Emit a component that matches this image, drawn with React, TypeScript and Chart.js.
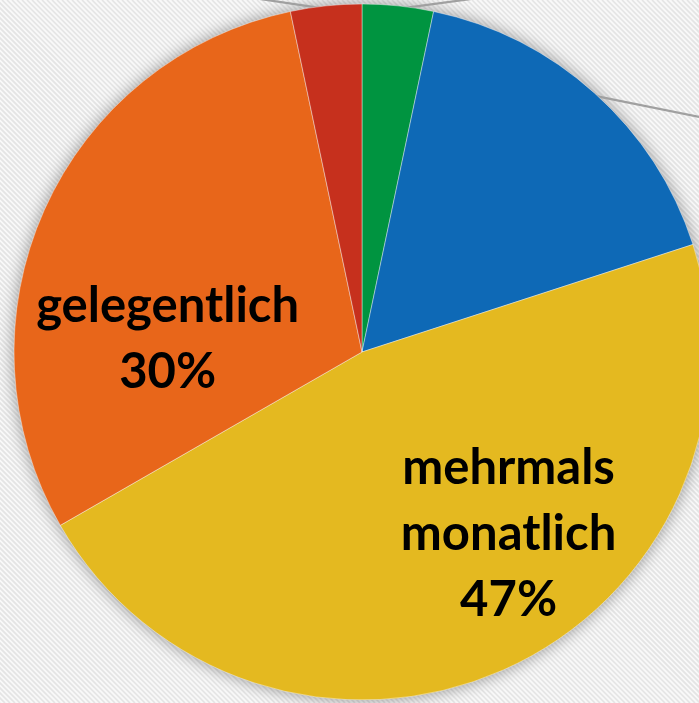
import React, { useEffect, useRef } from "react";
import { Chart, registerables } from "chart.js";

Chart.register(...registerables);

// ---- data ----
const categories = ["fast täglich", "mehrmals wöchentlich", "mehrmals monatlich", "gelegentlich", "nie"];
const values = [3.3, 16.7, 46.7, 30.0, 3.3];
const colors = ["#009440", "#0E69B6", "#E4B920", "#E8661A", "#C6301D"];
// which slices carry an inside label (others have leader lines to labels outside the crop)
const insideLabels = [false, false, true, true, false];

// ---- style ----
const W = 699;
const H = 703;
const RADIUS = 348;
const FONT = "bold 49px Lato, 'Noto Sans', sans-serif";
const LINE_H = 66;
// label anchor: angle offset (deg) from slice middle, radius fraction
const labelPlacement: Record<number, { dAng: number; r: number }> = {
  2: { dAng: -15, r: 0.67 },
  3: { dAng: -20, r: 0.56 },
};
// leader line direction for outside-labelled slices (dx, dy per unit)
const leaderDir: Record<number, [number, number]> = {
  0: [52, -7],
  1: [104, 21],
  4: [-47, -7],
};

const bgPlugin = {
  id: "bgPattern",
  beforeDraw(chart: any) {
    const ctx = chart.ctx as CanvasRenderingContext2D;
    ctx.save();
    ctx.fillStyle = "#f8f8f8";
    ctx.fillRect(0, 0, chart.width, chart.height);
    ctx.strokeStyle = "#e4e4e4";
    ctx.lineWidth = 1.6;
    for (let k = -chart.height; k < chart.width + chart.height; k += 5) {
      ctx.beginPath();
      ctx.moveTo(k, 0);
      ctx.lineTo(k + chart.height, chart.height);
      ctx.stroke();
    }
    ctx.restore();
  },
  beforeDatasetsDraw(chart: any) {
    const ctx = chart.ctx as CanvasRenderingContext2D;
    const arc = chart.getDatasetMeta(0).data[0];
    if (!arc) return;
    ctx.save();
    ctx.shadowColor = "rgba(0,0,0,0.4)";
    ctx.shadowBlur = 16;
    ctx.fillStyle = "#bbbbbb";
    ctx.beginPath();
    ctx.arc(arc.x, arc.y, arc.outerRadius, 0, Math.PI * 2);
    ctx.fill();
    ctx.restore();
    // leader lines
    ctx.save();
    ctx.strokeStyle = "#a0a0a0";
    ctx.lineWidth = 2.2;
    chart.getDatasetMeta(0).data.forEach((a: any, i: number) => {
      const d = leaderDir[i];
      if (!d) return;
      const mid = (a.startAngle + a.endAngle) / 2;
      const sx = a.x + Math.cos(mid) * (a.outerRadius - 3);
      const sy = a.y + Math.sin(mid) * (a.outerRadius - 3);
      ctx.beginPath();
      ctx.moveTo(sx, sy);
      ctx.lineTo(sx + d[0] * 3, sy + d[1] * 3);
      ctx.stroke();
    });
    ctx.restore();
  },
  afterDatasetsDraw(chart: any) {
    const ctx = chart.ctx as CanvasRenderingContext2D;
    ctx.save();
    ctx.font = FONT;
    ctx.fillStyle = "#000";
    ctx.textAlign = "center";
    ctx.textBaseline = "alphabetic";
    chart.getDatasetMeta(0).data.forEach((a: any, i: number) => {
      if (!insideLabels[i]) return;
      const p = labelPlacement[i];
      const mid = (a.startAngle + a.endAngle) / 2 + (p.dAng * Math.PI) / 180;
      const cx = a.x + Math.cos(mid) * a.outerRadius * p.r;
      const cy = a.y + Math.sin(mid) * a.outerRadius * p.r;
      const lines = [...categories[i].split(" "), `${Math.round(values[i])}%`];
      const top = cy - ((lines.length - 1) * LINE_H) / 2;
      lines.forEach((t, j) => {
        ctx.fillText(t, cx, top + j * LINE_H + 17);
      });
    });
    ctx.restore();
  },
};

export default function App() {
  const ref = useRef<HTMLCanvasElement | null>(null);
  useEffect(() => {
    if (!ref.current) return;
    const chart = new Chart(ref.current, {
      type: "pie",
      data: {
        labels: categories,
        datasets: [
          {
            data: values,
            backgroundColor: colors,
            borderColor: "rgba(255,255,255,0.4)",
            borderWidth: 1,
            radius: RADIUS,
          } as any,
        ],
      },
      options: {
        responsive: false,
        animation: false,
        layout: { padding: { left: 25, right: 0, top: 1, bottom: 0 } },
        plugins: {
          legend: { display: false },
          tooltip: { enabled: false },
          title: { display: false },
        },
      },
      plugins: [bgPlugin],
    });
    return () => chart.destroy();
  }, []);
  return (
    <div style={{ position: "fixed", left: 0, top: 0, width: W, height: H, overflow: "hidden" }}>
      <canvas ref={ref} width={W} height={H} style={{ display: "block", width: W, height: H }} />
    </div>
  );
}
